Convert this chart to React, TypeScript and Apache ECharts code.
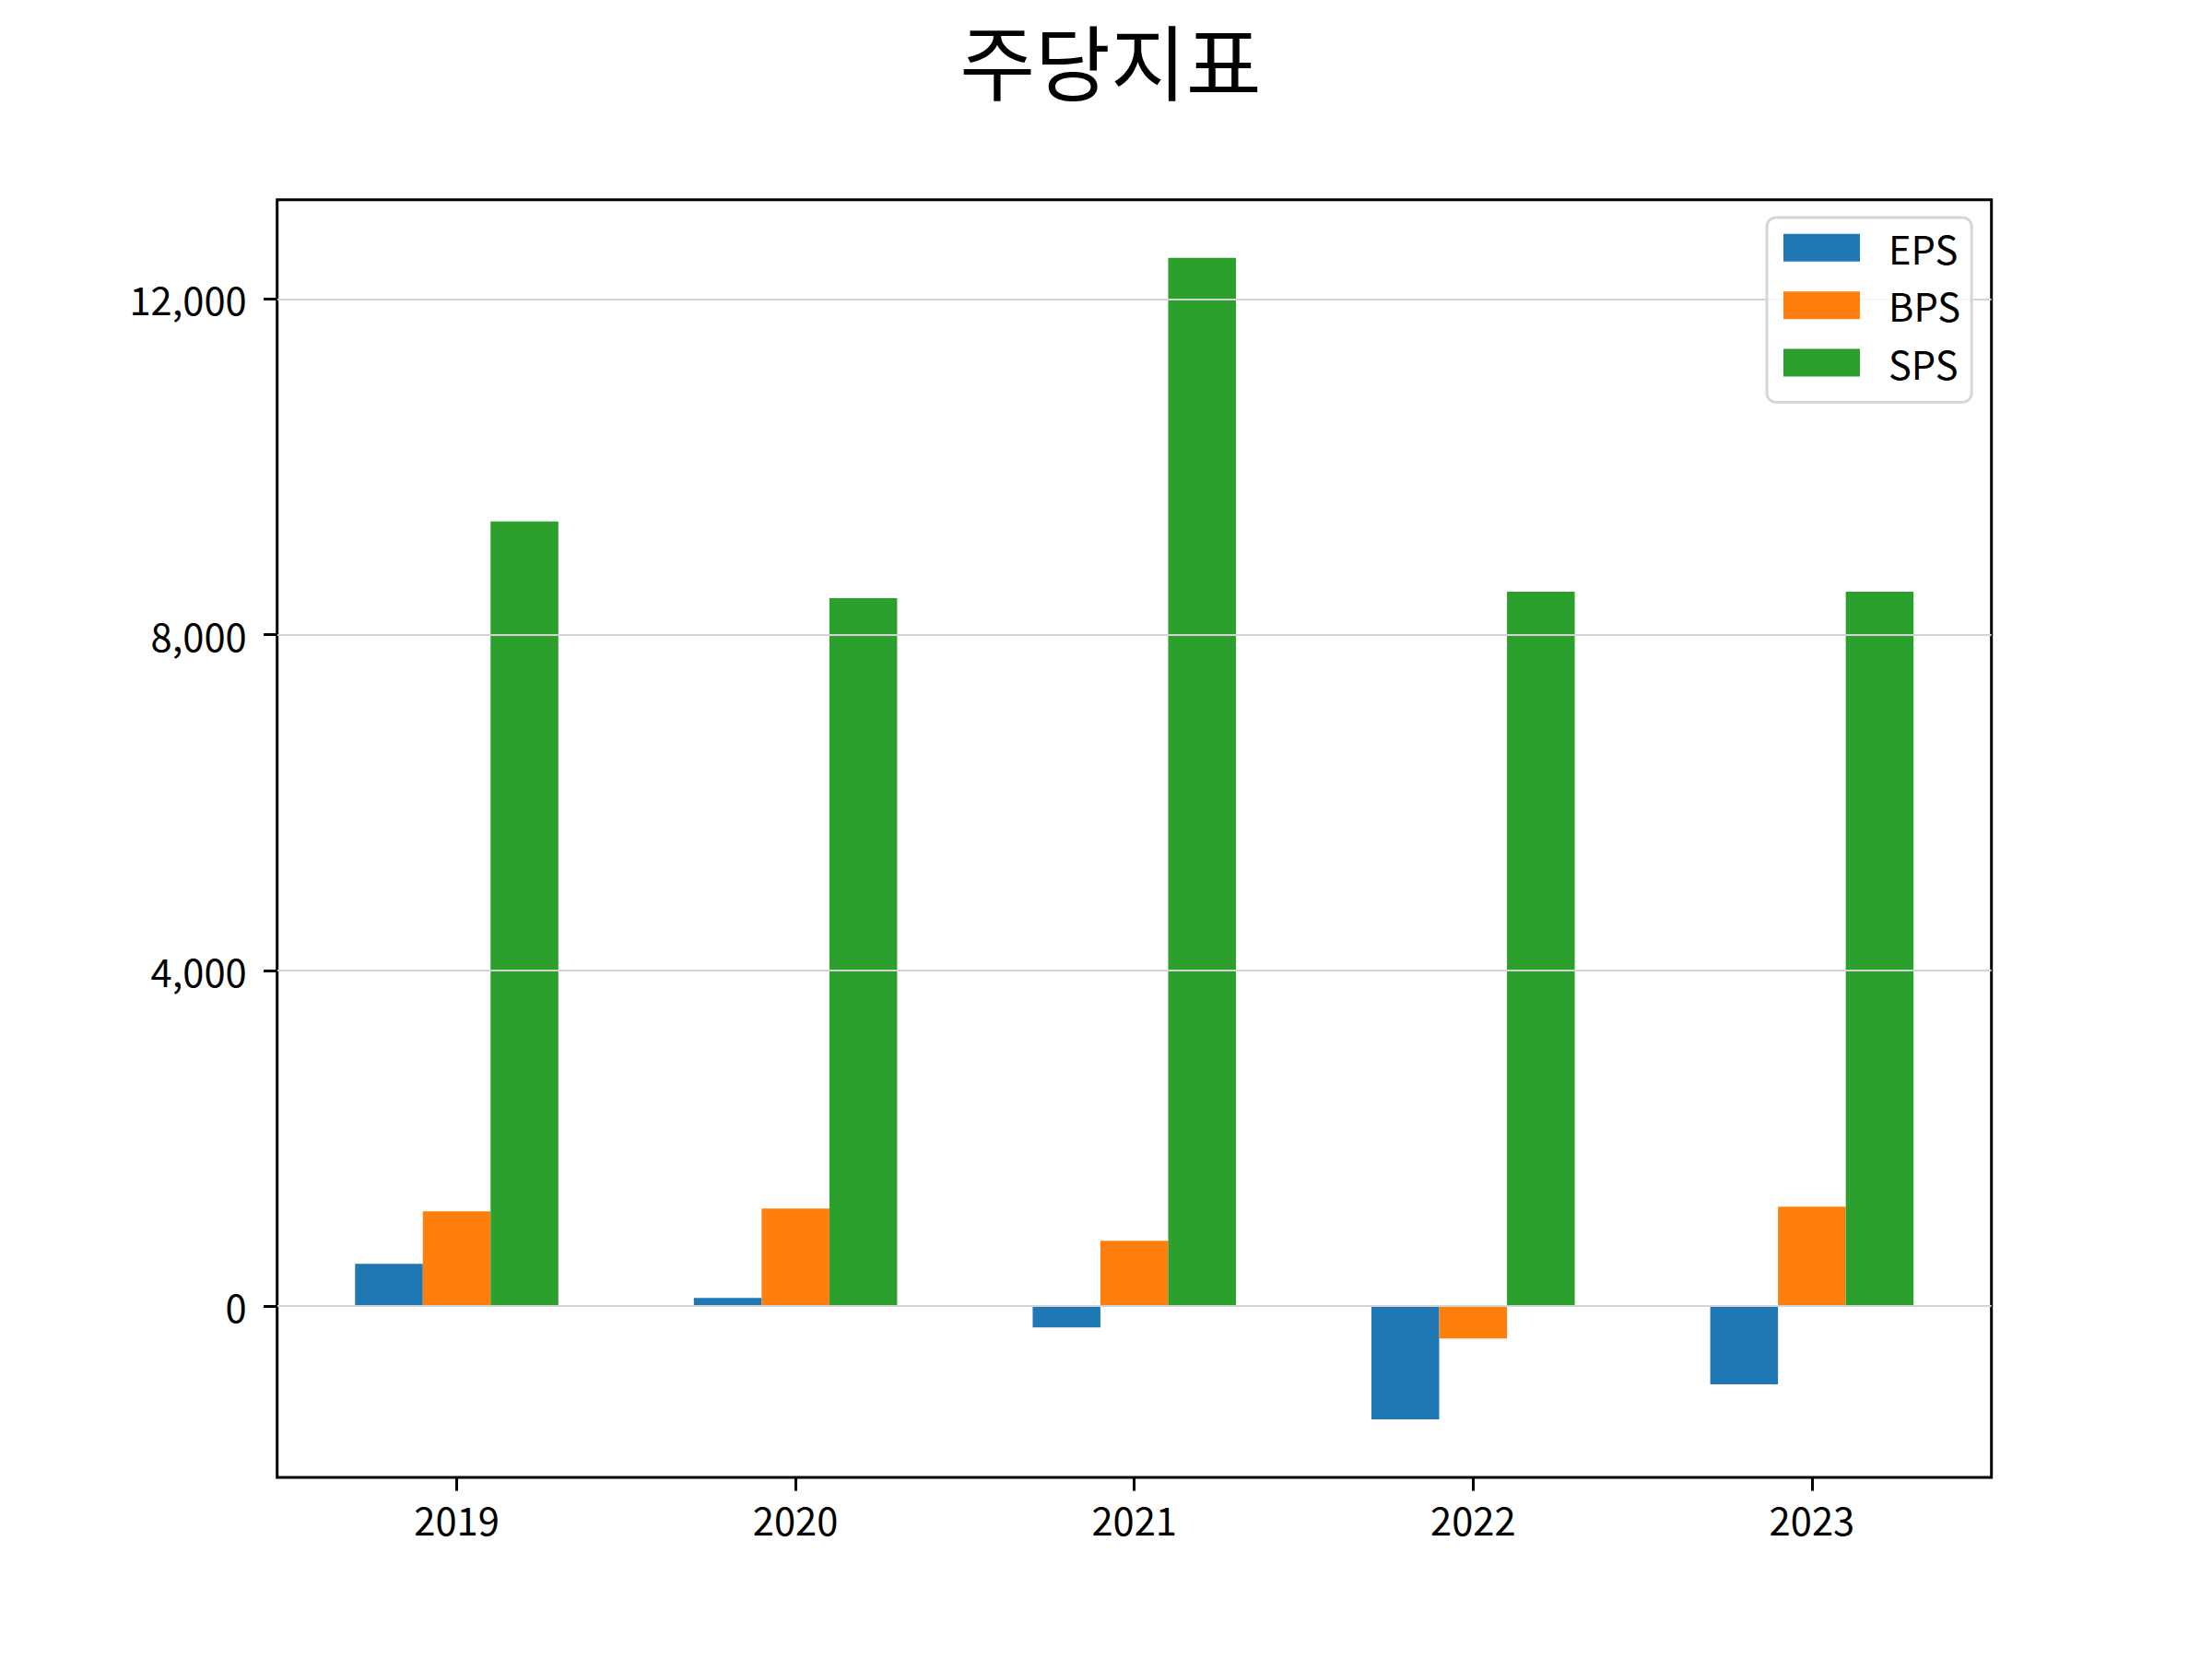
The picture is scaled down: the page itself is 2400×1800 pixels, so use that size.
import React, { useEffect, useRef } from "react";
import * as echarts from "echarts";

const years = ["2019", "2020", "2021", "2022", "2023"];
const seriesNames = ["EPS", "BPS", "SPS"];
const epsValues = [505, 99, -253, -1348, -930];
const bpsValues = [1131, 1164, 780, -384, 1186];
const spsValues = [9350, 8437, 12491, 8514, 8514];
const yTicks = [0, 4000, 8000, 12000];
const titleText = "주당지표";

const colors = ["#1f77b4", "#ff7f0e", "#2ca02c"];
const FONT = "'Noto Sans CJK KR', 'Noto Sans', sans-serif";

export default function App() {
  const ref = useRef<HTMLDivElement>(null);
  useEffect(() => {
    if (!ref.current) return;
    const chart = echarts.init(ref.current, undefined, { renderer: "svg" });
    const allVals = [...epsValues, ...bpsValues, ...spsValues];
    const dMin = Math.min(0, ...allVals);
    const dMax = Math.max(0, ...allVals);
    const pad = (dMax - dMin) * 0.05;
    const yMin = dMin - pad;
    const yMax = dMax + pad;

    // matplotlib-like x limits: bars span [-0.3, 4.3], 5% margins
    const axLeft = 300.7;
    const axWidth = 1860;
    const span = (years.length - 1) + 0.6;
    const xMin = -0.3 - span * 0.05;
    const xMax = years.length - 1 + 0.3 + span * 0.05;
    const unit = axWidth / (xMax - xMin);
    const catLeft = axLeft + (-0.5 - xMin) * unit;
    const catWidth = years.length * unit;
    const barW = 0.2 * unit;

    const dataSets = [epsValues, bpsValues, spsValues];

    chart.setOption({
      animation: false,
      backgroundColor: "#ffffff",
      title: {
        text: titleText,
        left: 1200,
        top: 14,
        textAlign: "center",
        textStyle: {
          fontFamily: FONT,
          fontSize: 89,
          fontWeight: "normal",
          color: "#000",
        },
      },
      legend: {
        data: seriesNames,
        orient: "vertical",
        left: 1917,
        top: 236,
        itemWidth: 83,
        itemHeight: 30,
        itemGap: 20.7,
        icon: "rect",
        backgroundColor: "rgba(255,255,255,0.8)",
        borderColor: "#d6d6d6",
        borderWidth: 3,
        borderRadius: 10,
        padding: [12, 12, 22, 18],
        z: 10,
        textStyle: {
          fontFamily: FONT,
          fontSize: 41.7,
          color: "#000",
          padding: [0, 0, 0, 26],
        },
      },
      grid: [
        {
          left: axLeft,
          top: 216.7,
          width: axWidth,
          height: 1386.3,
          show: true,
          borderColor: "#000",
          borderWidth: 3,
          backgroundColor: "transparent",
        },
        {
          left: catLeft,
          top: 216.7,
          width: catWidth,
          height: 1386.3,
        },
      ],
      xAxis: [
        {
          gridIndex: 0,
          type: "value",
          min: 0,
          max: 1,
          show: false,
        },
        {
          gridIndex: 1,
          type: "category",
          data: years,
          boundaryGap: true,
          position: "bottom",
          axisLine: { show: false, onZero: false },
          axisTick: {
            show: true,
            alignWithLabel: true,
            length: 14.6,
            lineStyle: { color: "#000", width: 3 },
          },
          axisLabel: {
            fontFamily: FONT,
            fontSize: 41.7,
            color: "#000",
            margin: 24,
          },
          splitLine: { show: false },
        },
      ],
      yAxis: [
        {
          gridIndex: 0,
          type: "value",
          min: yMin,
          max: yMax,
          z: 3,
          axisLine: { show: false },
          axisTick: {
            show: true,
            length: 14.6,
            lineStyle: { color: "#000", width: 3 },
            customValues: yTicks,
          },
          axisLabel: {
            fontFamily: FONT,
            fontSize: 41.7,
            color: "#000",
            margin: 33,
            customValues: yTicks,
            formatter: (v: number) => v.toLocaleString("en-US"),
          },
          splitLine: {
            show: true,
            lineStyle: { color: "#d3d3d3", width: 2 },
          },
        },
        {
          gridIndex: 1,
          type: "value",
          min: yMin,
          max: yMax,
          show: false,
          splitLine: { show: false },
        },
      ],
      series: seriesNames.map((name, i) => ({
        name,
        type: "bar",
        xAxisIndex: 1,
        yAxisIndex: 1,
        data: dataSets[i],
        barWidth: barW,
        barGap: "0%",
        itemStyle: { color: colors[i] },
        z: 2,
      })),
    });
    return () => chart.dispose();
  }, []);
  return (
    <div
      ref={ref}
      style={{ position: "absolute", left: 0, top: 0, width: 2400, height: 1800 }}
    />
  );
}
